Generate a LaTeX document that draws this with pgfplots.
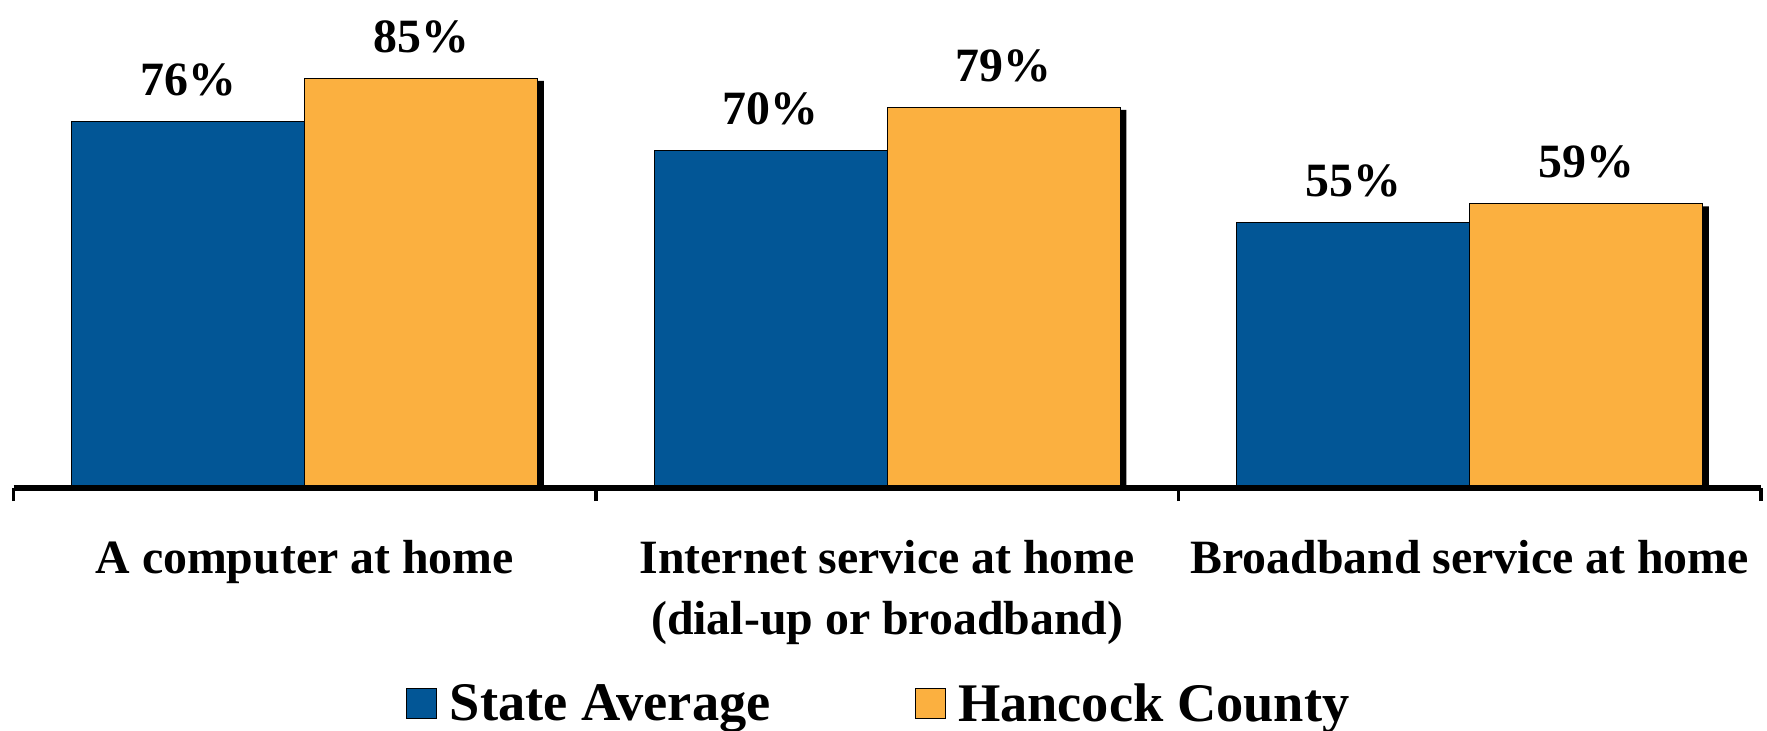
\documentclass[border=0pt]{standalone}
\usepackage{fontspec}
\setmainfont{Liberation Serif}
\usepackage{pgfplots}
\pgfplotsset{compat=1.18}

\definecolor{stateblue}{RGB}{2,86,150}
\definecolor{hancockorange}{RGB}{251,176,64}

\begin{document}
\begin{tikzpicture}
\begin{axis}[
    at={(6.75bp,121.5bp)}, anchor=south west,
    scale only axis,
    width=873.75bp, height=241bp,
    xmin=-0.5, xmax=2.5, ymin=0, ymax=100,
    clip=false, axis on top,
    axis x line=bottom, axis y line=none,
    x axis line style={-, line width=2.7bp},
    xtick={0,1,2},
    xticklabels={A computer at home, Internet service at home\\(dial-up or broadband), Broadband service at home},
    major tick length=0pt,
    xticklabel style={align=center, font=\bfseries\fontsize{24}{31}\selectfont, yshift=-22.5bp},
    extra x ticks={-0.5,0.5,1.5,2.5},
    extra x tick labels={},
    extra x tick style={major tick length=6.5bp, tick align=outside, tick style={line width=1.6bp, black}},
    ybar=0pt, bar width=0.4,
    /pgf/number format/assume math mode=true,
    nodes near coords={\pgfmathprintnumber{\pgfplotspointmeta}\%},
    every node near coord/.append style={anchor=base, yshift=13bp, black, font=\bfseries\fontsize{24}{29}\selectfont},
    legend columns=2,
    legend style={at={(0.2246,-0.448)}, anchor=west, draw=none, fill=none, inner sep=0pt,
        font=\bfseries\fontsize{27.3}{32}\selectfont,
        /tikz/every even column/.append style={column sep=70bp}},
    legend image code/.code={\draw[#1, draw=black, line width=0.5bp] (0bp,-7.5bp) rectangle (15bp,7.5bp);
        \path[draw=none, fill=none] (0bp,0bp) -- (19.5bp,0bp);},
]
% shadow behind the orange bars
\addplot[fill=black, draw=none, bar shift=0.2, forget plot, xshift=3bp, yshift=-1.35bp, nodes near coords={}]
    coordinates {(0,85) (1,79) (2,59)};
\addplot[fill=stateblue, draw=black, line width=0.5bp, bar shift=-0.2]
    coordinates {(0,76) (1,70) (2,55)};
\addplot[fill=hancockorange, draw=black, line width=0.5bp, bar shift=0.2]
    coordinates {(0,85) (1,79) (2,59)};
\legend{State Average, Hancock County}
\end{axis}
\pgfresetboundingbox
\path[use as bounding box] (0,0) rectangle (883.5bp,365.5bp);
\end{tikzpicture}
\end{document}
